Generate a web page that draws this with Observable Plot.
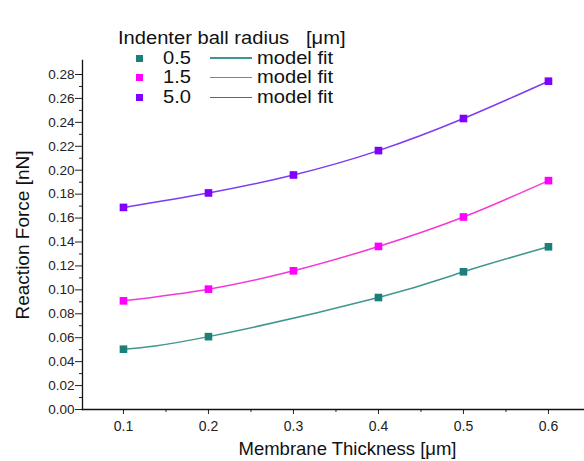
<!DOCTYPE html>
<html>
<head>
<meta charset="utf-8">
<script src="https://cdn.jsdelivr.net/npm/d3@7"></script>
<script src="https://cdn.jsdelivr.net/npm/@observablehq/plot@0.6"></script>
<style>
  html, body { margin: 0; padding: 0; background: #fff; }
  #wrap { position: relative; width: 584px; height: 461px; font-family: "Liberation Sans", Arial, sans-serif; }
  #legend { position: absolute; left: 0; top: 0; color: #111; }
  .lg { position: absolute; white-space: nowrap; font-size: 17.5px; line-height: 1; transform-origin: left center; transform: scaleX(1.15); }
  .mk { position: absolute; width: 7px; height: 7px; }
  .ln { position: absolute; height: 1.3px; width: 42px; }
</style>
</head>
<body>
<div id="wrap"><div id="legend"></div></div>
<script>
// Data
const thickness = [0.1, 0.2, 0.3, 0.4, 0.5, 0.6];
const radius05 = [0.0504, 0.0609, null, 0.0936, 0.1151, 0.1360];
const radius15 = [0.0908, 0.1006, 0.1159, 0.1363, 0.1609, 0.1913];
const radius50 = [0.1689, 0.1810, 0.1960, 0.2164, 0.2432, 0.2744];
const seriesNames = ["0.5", "1.5", "5.0"];
const markerColors = ["#1d8078", "#ff00ff", "#7f00ff"];
const lineColors = ["#3e968e", "#f43ad6", "#7b3cf2"];
const xTicks = [0.1, 0.2, 0.3, 0.4, 0.5, 0.6];
const xMinorTicks = [0.15, 0.25, 0.35, 0.45, 0.55];
const yTicks = [0, 0.02, 0.04, 0.06, 0.08, 0.10, 0.12, 0.14, 0.16, 0.18, 0.20, 0.22, 0.24, 0.26, 0.28];
const yMinorTicks = [0.01, 0.03, 0.05, 0.07, 0.09, 0.11, 0.13, 0.15, 0.17, 0.19, 0.21, 0.23, 0.25, 0.27];
const xDomain = [0.0518, 0.6424];
const yDomain = [0, 0.2917];

const allSeries = [radius05, radius15, radius50];
const rows = [];
allSeries.forEach((vals, i) => {
  vals.forEach((v, j) => {
    if (v != null) rows.push({series: seriesNames[i], x: thickness[j], y: v});
  });
});

const font = "'Liberation Sans', Arial, sans-serif";
const chart = Plot.plot({
  width: 584,
  height: 461,
  marginLeft: 82,
  marginRight: 0,
  marginTop: 60,
  marginBottom: 52,
  style: {fontFamily: font, fontSize: "13px", background: "transparent", color: "#222"},
  x: {domain: xDomain},
  y: {domain: yDomain},
  color: {domain: seriesNames, range: markerColors},
  marks: [
    Plot.axisY({ticks: yTicks, tickSize: 7, tickPadding: 1, tickFormat: ".2f", label: null, fontSize: 13.5, fill: "#222"}),
    Plot.axisY({ticks: yMinorTicks, tickSize: 3, tickFormat: () => "", label: null}),
    Plot.axisX({ticks: xTicks, tickSize: 5, tickPadding: 7, tickFormat: ".1f", label: null, fontSize: 14, fill: "#222"}),
    Plot.axisX({ticks: xMinorTicks, tickSize: 3, tickFormat: () => "", label: null}),
    Plot.frame({anchor: "left", stroke: "#111", strokeWidth: 1.3}),
    Plot.frame({anchor: "bottom", stroke: "#111", strokeWidth: 1.3}),
    ...seriesNames.map((s, i) => Plot.line(rows.filter(d => d.series === s), {
      x: "x", y: "y", stroke: lineColors[i], strokeWidth: 1.5, curve: "natural"
    })),
    Plot.dot(rows, {x: "x", y: "y", fill: "series", symbol: "square", r: 4.3, stroke: null}),
    Plot.text(["Reaction Force [nN]"], {frameAnchor: "left", textAnchor: "middle", lineAnchor: "middle", dx: -60, rotate: -90, fontSize: 19, fill: "#111"}),
    Plot.text(["Membrane Thickness [μm]"], {frameAnchor: "bottom", textAnchor: "middle", lineAnchor: "middle", dx: 14, dy: 40, fontSize: 18.5, fill: "#111"})
  ]
});
document.getElementById("wrap").prepend(chart);
chart.style.position = "absolute";
chart.style.left = "0";
chart.style.top = "0";

// Legend (HTML overlay)
const legend = document.getElementById("legend");
const title = document.createElement("div");
title.className = "lg";
title.style.left = "118px";
title.style.top = "30px";
title.innerHTML = "Indenter ball radius&nbsp;&nbsp;&nbsp;[μm]";
legend.appendChild(title);
const rowY = [58, 77.7, 97.3];
seriesNames.forEach((s, i) => {
  const mk = document.createElement("div");
  mk.className = "mk";
  mk.style.left = (139 - 3.5) + "px";
  mk.style.top = (rowY[i] - 3.5) + "px";
  mk.style.background = markerColors[i];
  legend.appendChild(mk);
  const lab = document.createElement("div");
  lab.className = "lg";
  lab.style.left = "163px";
  lab.style.top = (rowY[i] - 8.5) + "px";
  lab.textContent = s;
  legend.appendChild(lab);
  const ln = document.createElement("div");
  ln.className = "ln";
  ln.style.left = "210px";
  ln.style.top = (rowY[i] - 0.65) + "px";
  ln.style.background = lineColors[i];
  legend.appendChild(ln);
  const mf = document.createElement("div");
  mf.className = "lg";
  mf.style.left = "257px";
  mf.style.top = (rowY[i] - 8.5) + "px";
  mf.textContent = "model fit";
  legend.appendChild(mf);
});
</script>
</body>
</html>
